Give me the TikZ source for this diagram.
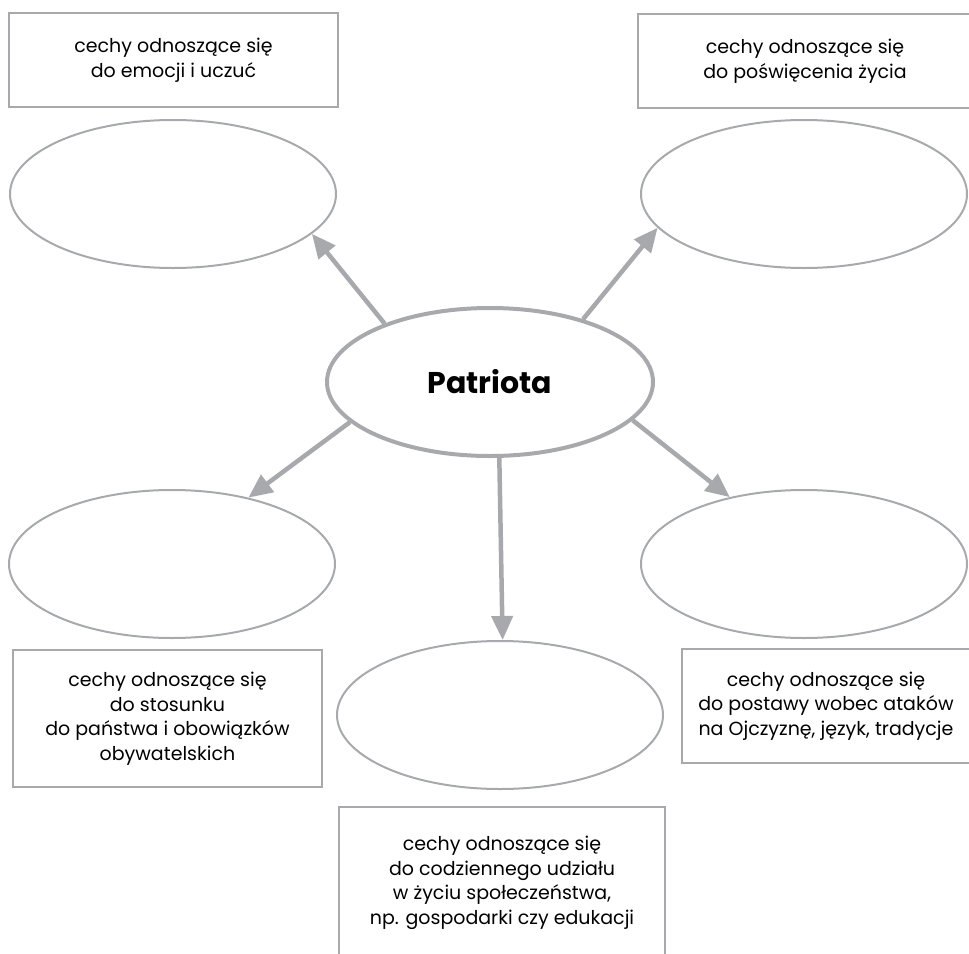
\documentclass[tikz,border=0pt]{standalone}
\usepackage{fontspec}
\setmainfont{Poppins}
\usetikzlibrary{shapes.geometric,arrows.meta}
\definecolor{lgray}{RGB}{167,169,172}
\begin{document}
\begin{tikzpicture}[x=1pt,y=-1pt,
  oval/.style={ellipse, draw=lgray, line width=2pt, minimum width=326pt, minimum height=148pt, inner sep=0pt},
  lbox/.style={rectangle, draw=lgray, line width=2.5pt, align=center, inner sep=0pt, font=\fontsize{19}{24.5}\selectfont},
  arr/.style={draw=lgray, line width=4.5pt, -{Triangle[length=24pt,width=21pt]}}]
\path[use as bounding box, clip] (0,0) rectangle (969,953);
\node[lbox, minimum width=329pt, minimum height=94pt] (bx1) at (173.5,60){cechy odnoszące się\\do emocji i uczuć};
\node[lbox, minimum width=334pt, minimum height=94pt] (bx2) at (805,61){cechy odnoszące się\\do poświęcenia życia};
\node[lbox, minimum width=309pt, minimum height=137pt] (bx3) at (167.5,718.5){cechy odnoszące się\\do stosunku\\do państwa i obowiązków\\obywatelskich};
\node[lbox, minimum width=326pt, minimum height=152pt] (bx4) at (502,883){cechy odnoszące się\\do codziennego udziału\\w życiu społeczeństwa,\\np. gospodarki czy edukacji};
\node[lbox, minimum width=288pt, minimum height=114pt] (bx5) at (826,706){cechy odnoszące się\\do postawy wobec ataków\\na Ojczyznę, język, tradycje};
\node[oval, line width=4pt, font=\fontsize{30}{36}\selectfont\bfseries] (el0) at (490,382){Patriota};
\node[oval] (el1) at (173,194){};
\node[oval] (el2) at (804,194){};
\node[oval] (el3) at (172,564){};
\node[oval] (el4) at (804,564){};
\node[oval] (el5) at (500,715){};
\draw[arr] (el0.151) -- (el1.-16);
\draw[arr] (el0.34) -- (el2.-167);
\draw[arr] (el0.-164) -- (el3.41);
\draw[arr] (el0.-15) -- (el4.138);
\draw[arr] (el0.-83) -- (el5.88);
\end{tikzpicture}
\end{document}
